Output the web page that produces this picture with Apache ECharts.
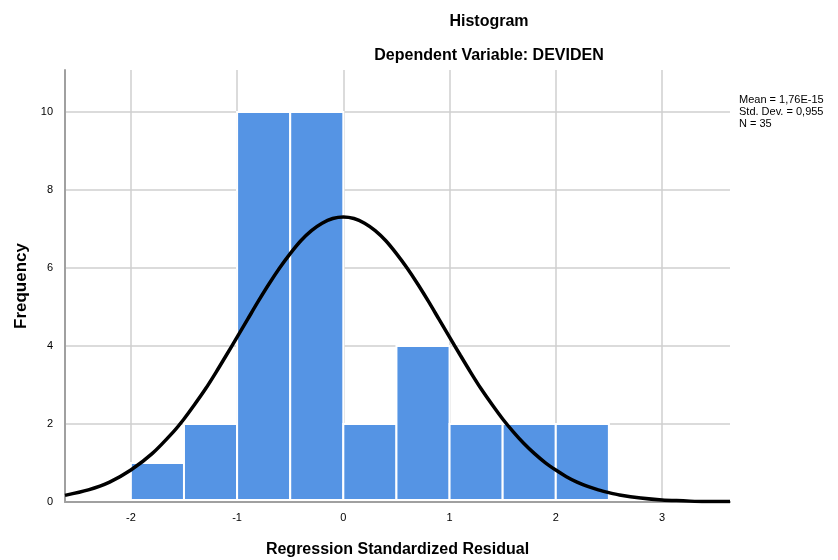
<!DOCTYPE html>
<html>
<head>
<meta charset="utf-8">
<script src="https://cdn.jsdelivr.net/npm/echarts@6/dist/echarts.min.js"></script>
<style>
  html, body { margin: 0; padding: 0; background: #fff; }
  #chart { width: 838px; height: 560px; }
</style>
</head>
<body>
<div id="chart"></div>
<script>
// histogram bins (lower edge, upper edge) and counts
const binStart = [-2, -1.5, -1, -0.5, 0, 0.5, 1, 1.5, 2];
const binEnd = [-1.5, -1, -0.5, 0, 0.5, 1, 1.5, 2, 2.5];
const counts = [1, 2, 10, 10, 2, 4, 2, 2, 2];

// normal curve
const curveX = [-2.62, -2.4, -2.2, -2.0, -1.8, -1.6, -1.5, -1.4, -1.3, -1.2, -1.1, -1.0, -0.9, -0.8, -0.7,
  -0.6, -0.5, -0.4, -0.3, -0.2, -0.1, 0, 0.1, 0.2, 0.3, 0.4, 0.5, 0.6, 0.7, 0.8, 0.9, 1.0, 1.1, 1.2,
  1.3, 1.4, 1.5, 1.6, 1.7, 1.8, 1.9, 2.0, 2.1, 2.2, 2.3, 2.4, 2.5, 2.6, 2.8, 3.0, 3.2, 3.4, 3.64];
const curveY = [0.17, 0.31, 0.51, 0.82, 1.24, 1.80, 2.13, 2.50, 2.89, 3.32, 3.77, 4.23, 4.69, 5.15, 5.59,
  6.00, 6.37, 6.70, 6.96, 7.15, 7.27, 7.31, 7.27, 7.15, 6.96, 6.70, 6.37, 6.00, 5.59, 5.15, 4.69, 4.23, 3.77, 3.32,
  2.89, 2.50, 2.13, 1.80, 1.50, 1.24, 1.01, 0.82, 0.65, 0.51, 0.40, 0.31, 0.24, 0.18, 0.10, 0.05, 0.03, 0.01, 0.01];

const yTicks = [0, 2, 4, 6, 8, 10];

const statsText = ["Mean = 1,76E-15", "Std. Dev. = 0,955", "N = 35"];

const barData = binStart.map((s, i) => [s, binEnd[i], counts[i]]);
const lineData = curveX.map((x, i) => [x, curveY[i]]);

const mychart = echarts.init(document.getElementById("chart"));

const option = {
  animation: false,
  textStyle: { fontFamily: "Liberation Sans, Arial, sans-serif" },
  title: [
    {
      text: "Histogram",
      left: 484,
      top: 9,
      textAlign: "center",
      textStyle: { fontSize: 16, fontWeight: "bold", color: "#000" }
    },
    {
      text: "Dependent Variable: DEVIDEN",
      left: 484,
      top: 43,
      textAlign: "center",
      textStyle: { fontSize: 16, fontWeight: "bold", color: "#000" }
    }
  ],
  graphic: [
    {
      type: "text",
      left: 739,
      top: 94,
      style: {
        text: statsText.join("\n"),
        font: "11px Liberation Sans, Arial, sans-serif",
        lineHeight: 12,
        fill: "#000"
      }
    }
  ],
  grid: {
    left: 65,
    right: 108,
    top: 70,
    bottom: 58,
    containLabel: false,
    outerBoundsMode: "none"
  },
  xAxis: {
    type: "value",
    min: -2.62,
    max: 3.64,
    minInterval: 1,
    maxInterval: 1,
    name: "Regression Standardized Residual",
    nameLocation: "middle",
    nameGap: 40,
    nameTextStyle: { fontSize: 16, fontWeight: "bold", color: "#000" },
    axisLine: { show: true, onZero: false, lineStyle: { color: "#a0a0a0", width: 2 } },
    axisTick: { show: false },
    axisLabel: {
      showMinLabel: false,
      showMaxLabel: false,
      fontSize: 11,
      color: "#000",
      margin: 10
    },
    splitLine: {
      show: true,
      showMinLine: false,
      showMaxLine: false,
      lineStyle: { color: "#cfcfcf", width: 1.5 }
    }
  },
  yAxis: {
    type: "value",
    min: 0,
    max: 11.08,
    minInterval: 2,
    maxInterval: 2,
    name: "Frequency",
    nameLocation: "middle",
    nameGap: 35,
    nameTextStyle: { fontSize: 17, fontWeight: "bold", color: "#000" },
    axisLine: { show: true, onZero: false, lineStyle: { color: "#a0a0a0", width: 2 } },
    axisTick: { show: false },
    axisLabel: {
      showMaxLabel: false,
      fontSize: 11,
      color: "#000",
      margin: 12,
      formatter: v => (yTicks.indexOf(v) >= 0 ? String(v) : "")
    },
    splitLine: {
      show: true,
      showMinLine: false,
      showMaxLine: false,
      lineStyle: { color: "#cfcfcf", width: 1.5 }
    }
  },
  series: [
    {
      type: "custom",
      data: barData,
      encode: { x: [0, 1], y: 2 },
      renderItem: function (params, api) {
        const p0 = api.coord([api.value(0), api.value(2)]);
        const p1 = api.coord([api.value(1), 0]);
        return {
          type: "rect",
          shape: { x: p0[0], y: p0[1], width: p1[0] - p0[0], height: p1[1] - p0[1] - 2 },
          style: { fill: "#5594e4", stroke: "#ffffff", lineWidth: 2 }
        };
      },
      z: 2
    },
    {
      type: "line",
      data: lineData,
      smooth: 0.3,
      symbol: "none",
      lineStyle: { color: "#000", width: 3.5 },
      z: 3
    }
  ]
};
mychart.setOption(option);
</script>
</body>
</html>
